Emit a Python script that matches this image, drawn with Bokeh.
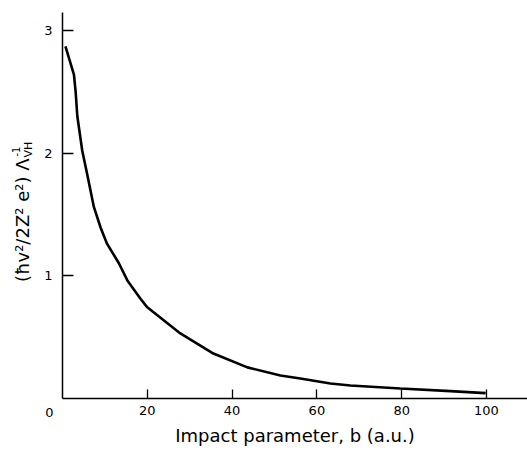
import math
from bokeh.plotting import figure
from bokeh.models import Range1d, FixedTicker, Label
from bokeh.embed import file_html
from bokeh.resources import INLINE

# data
b_au = [0.7, 2.7, 3.1, 3.5, 4.65, 5.8, 7.4, 9.0, 10.5, 13.3, 15.3, 18.4, 20,
        27.8, 35.6, 43.6, 51.4, 56.1, 63.2, 67.9, 79.7, 91.5, 99.8]
lam_inv = [2.87, 2.64, 2.50, 2.30, 2.02, 1.83, 1.56, 1.39, 1.26, 1.10, 0.96,
           0.81, 0.74, 0.527, 0.363, 0.25, 0.184, 0.159, 0.118, 0.102, 0.078,
           0.056, 0.04]
x_ticks = [20, 40, 60, 80, 100]
y_ticks = [1, 2, 3]
x_title = "Impact parameter, b (a.u.)"
y_title = "(ħv²/2Z² e²) Λ"
y_title_sup = "-1"
y_title_sub = "VH"

FONT = "DejaVu Sans"

p = figure(width=527, height=451, output_backend="svg", toolbar_location=None,
           x_range=Range1d(-14.62, 109.67), y_range=Range1d(-0.4367, 3.2449),
           min_border=0)
p.outline_line_color = None
p.grid.grid_line_color = None
p.background_fill_color = "white"
p.border_fill_color = "white"

p.line(b_au, lam_inv, line_color="black", line_width=2.6)

for ax in (p.xaxis[0], p.yaxis[0]):
    ax.fixed_location = 0
    ax.axis_line_color = "black"
    ax.axis_line_width = 1.5
    ax.major_tick_line_color = "black"
    ax.major_tick_line_width = 1.3
    ax.major_tick_out = 0
    ax.minor_tick_line_color = None
    ax.major_label_text_font = FONT
    ax.major_label_text_color = "black"
    ax.major_label_text_font_size = "13px"
    ax.axis_label_text_font = FONT
    ax.axis_label_text_font_style = "normal"
    ax.axis_label_text_color = "black"

p.xaxis.bounds = (0, 109.67)
p.yaxis.bounds = (0, 3.147)
p.xaxis.ticker = FixedTicker(ticks=x_ticks)
p.yaxis.ticker = FixedTicker(ticks=y_ticks)
p.xaxis.major_tick_in = 9
p.yaxis.major_tick_in = 11
p.xaxis.major_label_standoff = 8
p.yaxis.major_label_standoff = 10

p.xaxis.axis_label = x_title
p.xaxis.axis_label_text_font_size = "18px"
p.xaxis.axis_label_standoff = 6

# origin label "0"
p.add_layout(Label(x=49, y=39, x_units="screen", y_units="screen", text="0",
                   text_font=FONT, text_font_size="13px", text_color="black",
                   text_align="center", text_baseline="middle"))

# rotated y title with its sub/superscripts
p.add_layout(Label(x=22, y=293, x_units="screen", y_units="screen", text=y_title,
                   text_font=FONT, text_font_size="18px", text_color="black",
                   angle=math.pi / 2, text_align="right", text_baseline="middle"))
p.add_layout(Label(x=15, y=295, x_units="screen", y_units="screen", text=y_title_sup,
                   text_font=FONT, text_font_size="10px", text_color="black",
                   angle=math.pi / 2, text_align="left", text_baseline="middle"))
p.add_layout(Label(x=28, y=294, x_units="screen", y_units="screen", text=y_title_sub,
                   text_font=FONT, text_font_size="11px", text_color="black",
                   angle=math.pi / 2, text_align="left", text_baseline="middle"))

open("out.html", "w").write(file_html(p, INLINE))
